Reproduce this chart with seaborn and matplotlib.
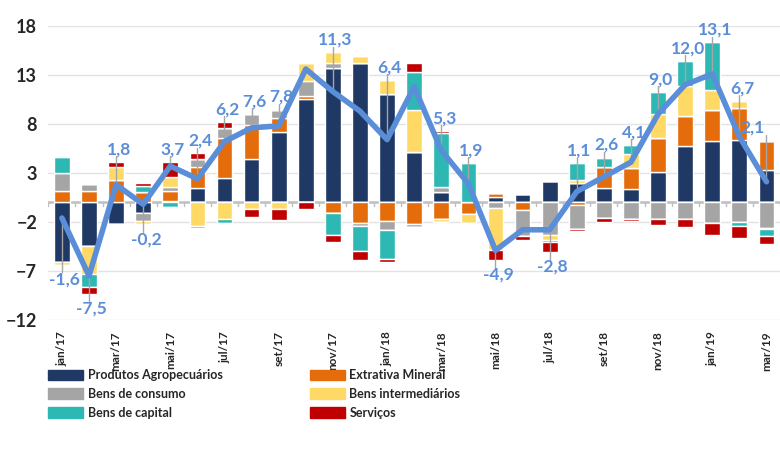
import numpy as np
import matplotlib
matplotlib.use('Agg')
import matplotlib.pyplot as plt
import seaborn as sns
from matplotlib.patches import Patch

months = ['jan/17', 'fev/17', 'mar/17', 'abr/17', 'mai/17', 'jun/17', 'jul/17', 'ago/17', 'set/17',
          'out/17', 'nov/17', 'dez/17', 'jan/18', 'fev/18', 'mar/18', 'abr/18', 'mai/18', 'jun/18',
          'jul/18', 'ago/18', 'set/18', 'out/18', 'nov/18', 'dez/18', 'jan/19', 'fev/19', 'mar/19']

agro = [-6.1, -4.5, -2.2, -1.1, 0.1, 1.5, 2.5, 4.4, 7.2, 10.5, 13.7, 14.2, 11.05, 5.1, 1.1, 0.0,
        0.5, 0.9, 2.15, 2.0, 1.5, 1.33, 3.13, 5.7, 6.26, 6.36, 3.3]
extrativa = [1.2, 1.2, 2.28, 1.1, 1.1, 2.14, 4.1, 3.5, 1.36, 0.3, -1.1, -2.1, -1.87, -2.25, -1.7, -1.2,
             0.45, -0.8, 0.0, -0.27, 2.15, 2.2, 3.4, 3.13, 3.16, 3.23, 3.0]
consumo = [1.84, 0.68, 0.0, -0.85, 0.4, 0.75, 1.0, 1.1, 0.9, 1.6, 0.5, -0.3, -1.0, -0.3, 0.45, 0.0,
           -0.6, -2.65, -3.3, -2.45, -1.63, -1.7, -1.73, -1.7, -2.14, -1.97, -2.65]
intermed = [-0.25, -2.8, 1.36, -0.3, 1.0, -2.4, -1.73, -0.7, -0.7, 1.77, 1.1, 0.75, 1.43, 4.3, -0.35, -0.95,
            -4.3, 0.0, -0.5, 0.27, 0.0, 1.4, 2.5, 3.0, 2.04, 0.75, -0.1]
capital = [1.63, -1.35, -0.15, 0.58, -0.45, -0.27, -0.4, 0.0, 0.0, 0.0, -2.2, -2.6, -2.9, 3.9, 5.5, 4.0,
           0.0, 0.0, -0.25, 1.7, 0.9, 0.9, 2.2, 2.6, 4.86, -0.4, -0.68]
servicos = [0.0, -0.7, 0.5, 0.34, 1.5, 0.6, 0.6, -0.75, -1.1, -0.7, -0.75, -0.85, -0.3, 0.92, 0.25, 0.0,
            -0.95, -0.4, -1.0, -0.2, -0.35, -0.2, -0.58, -0.78, -1.2, -1.3, -0.82]

total = [-1.6, -7.5, 1.8, -0.2, 3.7, 2.4, 6.2, 7.6, 7.8, 13.6, 11.3, 9.3, 6.4, 11.8, 5.3, 1.9,
         -4.9, -2.8, -2.8, 1.1, 2.6, 4.1, 9.0, 12.0, 13.1, 6.7, 2.1]
show_label = [1, 1, 1, 1, 1, 1, 1, 1, 1, 0, 1, 0, 1, 0, 1, 1, 1, 0, 1, 1, 1, 1, 1, 1, 1, 1, 1]

series_names = ['Produtos Agropecuários', 'Extrativa Mineral', 'Bens de consumo',
                'Bens intermediários', 'Bens de capital', 'Serviços']
series = [agro, extrativa, consumo, intermed, capital, servicos]
colors = ['#1F3864', '#E46C0A', '#A5A5A5', '#FFD966', '#2EB8B3', '#C00000']
line_color = '#5B8ED8'

sns.set_style('white')
plt.rcParams['font.family'] = ['Lato', 'DejaVu Sans']
plt.rcParams['font.weight'] = 'bold'

fig = plt.figure(figsize=(7.8, 4.63), dpi=100)
ax = fig.add_axes([0.062, 0.309, 0.938, 0.635])

n = len(months)
x = np.arange(n)
pos_base = np.zeros(n)
neg_base = np.zeros(n)
for vals, col in zip(series, colors):
    v = np.array(vals)
    pos = np.where(v > 0, v, 0)
    neg = np.where(v < 0, v, 0)
    ax.bar(x, pos, bottom=pos_base, width=0.58, color=col, zorder=2)
    ax.bar(x, neg, bottom=neg_base, width=0.58, color=col, zorder=2)
    pos_base += pos
    neg_base += neg

ax.axhline(0, color='#BFBFBF', lw=1.8, zorder=1)
for b in np.arange(-0.5, n, 1):
    ax.plot([b, b], [0, -0.35], color='#BFBFBF', lw=1, zorder=1)

sns.lineplot(x=x, y=total, ax=ax, color=line_color, lw=4, zorder=4)

# rótulos com linha de chamada
for i, (t, s) in enumerate(zip(total, show_label)):
    if not s:
        continue
    if t >= 0:
        ly = pos_base[i] + 1.3
        ax.plot([i, i], [ly - 0.7, t], color='#A6A6A6', lw=1, zorder=3)
    else:
        ly = neg_base[i] - 1.5
        ax.plot([i, i], [ly + 0.7, t], color='#A6A6A6', lw=1, zorder=3)
    lx = min(i + 0.1, n - 1.5)
    ax.text(lx, ly, f'{t:.1f}'.replace('.', ','), ha='center', va='center',
            color=line_color, fontsize=12.5, fontweight='bold', zorder=5, clip_on=False)

ax.set_xlim(-0.5, n - 0.5)
ax.set_ylim(-12, 18)
ax.set_yticks([-12, -7, -2, 3, 8, 13, 18])
ax.yaxis.grid(True, color='#E3E3E3', lw=1)
ax.set_axisbelow(True)
ax.set_xticks(x[::2])
ax.set_xticklabels(months[::2], rotation=90, fontsize=8.5, fontweight='bold')
ax.tick_params(axis='y', labelsize=13, length=0, pad=8)
ax.tick_params(axis='x', length=0, pad=8)
for sp in ax.spines.values():
    sp.set_visible(False)

order = [0, 2, 4, 1, 3, 5]
handles = [Patch(color=colors[k], label=series_names[k]) for k in order]
fig.legend(handles=handles, loc='upper left', bbox_to_anchor=(0.062, 1 - 369 / 463), ncol=2,
           frameon=False, handlelength=2.8, handleheight=0.9,
           handletextpad=0.35, columnspacing=7.0, labelspacing=0.55, borderpad=0, borderaxespad=0,
           prop={'weight': 'bold', 'size': 9})

fig.savefig('out.png', dpi=100)
